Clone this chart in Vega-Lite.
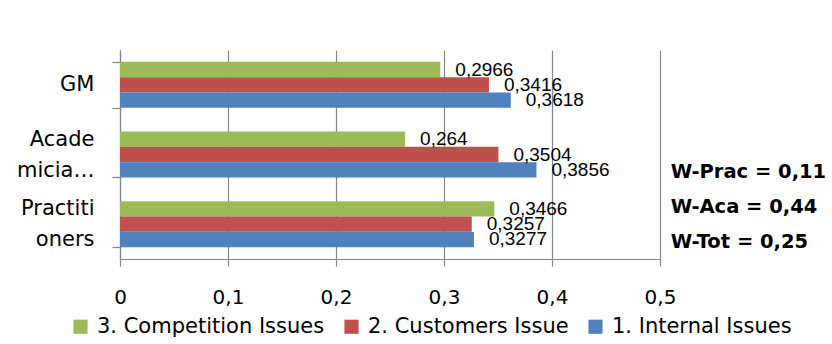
{
  "$schema": "https://vega.github.io/schema/vega-lite/v6.json",
  "width": 540,
  "height": 209,
  "autosize": {"type": "none"},
  "padding": {"left": 120, "top": 50, "right": 172, "bottom": 85},
  "background": "white",
  "config": {
    "view": {"stroke": null},
    "locale": {"number": {"decimal": ",", "thousands": ".", "grouping": [3], "currency": ["", " €"]}}
  },
  "data": {
    "values": [
      {"group": "GM", "series": "3. Competition Issues", "value": 0.2966},
      {"group": "GM", "series": "2. Customers Issue", "value": 0.3416},
      {"group": "GM", "series": "1. Internal Issues", "value": 0.3618},
      {"group": "Academicia…", "series": "3. Competition Issues", "value": 0.264},
      {"group": "Academicia…", "series": "2. Customers Issue", "value": 0.3504},
      {"group": "Academicia…", "series": "1. Internal Issues", "value": 0.3856},
      {"group": "Practitioners", "series": "3. Competition Issues", "value": 0.3466},
      {"group": "Practitioners", "series": "2. Customers Issue", "value": 0.3257},
      {"group": "Practitioners", "series": "1. Internal Issues", "value": 0.3277}
    ]
  },
  "layer": [
    {
      "mark": {"type": "bar"},
      "encoding": {
        "y": {
          "field": "group",
          "type": "nominal",
          "sort": ["GM", "Academicia…", "Practitioners"],
          "scale": {"paddingInner": 0.34, "paddingOuter": 0.17},
          "title": null,
          "axis": {
            "tickBand": "extent",
            "tickSize": 8,
            "tickColor": "#868686",
            "domainColor": "#868686",
            "tickWidth": 1.2,
            "domainWidth": 1.2,
            "labelFont": "DejaVu Sans",
            "labelFontSize": 21,
            "labelColor": "#000000",
            "labelAlign": "right",
            "labelBaseline": "middle",
            "labelLineHeight": 31,
            "labelPadding": 18,
            "labelOffset": {"condition": {"test": "datum.value != 'GM'", "value": -15.5}, "value": 0},
            "labelExpr": "datum.value == 'Academicia…' ? ['Acade', 'micia…'] : (datum.value == 'Practitioners' ? ['Practiti', 'oners'] : datum.value)"
          }
        },
        "yOffset": {
          "field": "series",
          "type": "nominal",
          "sort": ["3. Competition Issues", "2. Customers Issue", "1. Internal Issues"]
        },
        "x": {
          "field": "value",
          "type": "quantitative",
          "scale": {"domain": [0, 0.5]},
          "title": null,
          "axis": {
            "values": [0, 0.1, 0.2, 0.3, 0.4, 0.5],
            "format": ".1~f",
            "grid": true,
            "gridColor": "#868686",
            "gridWidth": 1.2,
            "tickSize": 7,
            "tickColor": "#868686",
            "tickWidth": 1.2,
            "domainColor": "#868686",
            "domainWidth": 1.2,
            "labelFont": "DejaVu Sans",
            "labelFontSize": 20,
            "labelColor": "#000000",
            "labelPadding": 21,
            "labelFlush": false
          }
        },
        "color": {
          "field": "series",
          "type": "nominal",
          "scale": {
            "domain": ["3. Competition Issues", "2. Customers Issue", "1. Internal Issues"],
            "range": ["#9BBB59", "#C0504D", "#4F81BD"]
          },
          "legend": {
            "orient": "none",
            "legendX": -50,
            "legendY": 266,
            "direction": "horizontal",
            "columns": 3,
            "title": null,
            "symbolType": "square",
            "symbolSize": 200,
            "symbolStrokeWidth": 0,
            "labelFont": "DejaVu Sans",
            "labelFontSize": 21,
            "labelColor": "#000000",
            "labelOffset": 6,
            "columnPadding": 16,
            "labelLimit": 400,
            "padding": 0
          }
        }
      }
    },
    {
      "mark": {"type": "text", "align": "left", "baseline": "middle", "dx": 15, "font": "Liberation Sans", "fontSize": 19, "color": "#000000"},
      "encoding": {
        "y": {"field": "group", "type": "nominal", "sort": ["GM", "Academicia…", "Practitioners"]},
        "yOffset": {"field": "series", "type": "nominal", "sort": ["3. Competition Issues", "2. Customers Issue", "1. Internal Issues"]},
        "x": {"field": "value", "type": "quantitative"},
        "text": {"field": "value", "type": "quantitative", "format": ".4~f"}
      }
    },
    {
      "data": {"values": [{}]},
      "mark": {"type": "text", "align": "left", "baseline": "middle", "dy": -52, "font": "DejaVu Sans", "fontWeight": "bold", "fontSize": 19.5, "lineHeight": 35, "color": "#000000"},
      "encoding": {
        "x": {"datum": 0.51},
        "y": {"datum": "Practitioners"},
        "text": {"value": ["W-Prac = 0,11", "W-Aca = 0,44", "W-Tot = 0,25"]}
      }
    }
  ]
}
